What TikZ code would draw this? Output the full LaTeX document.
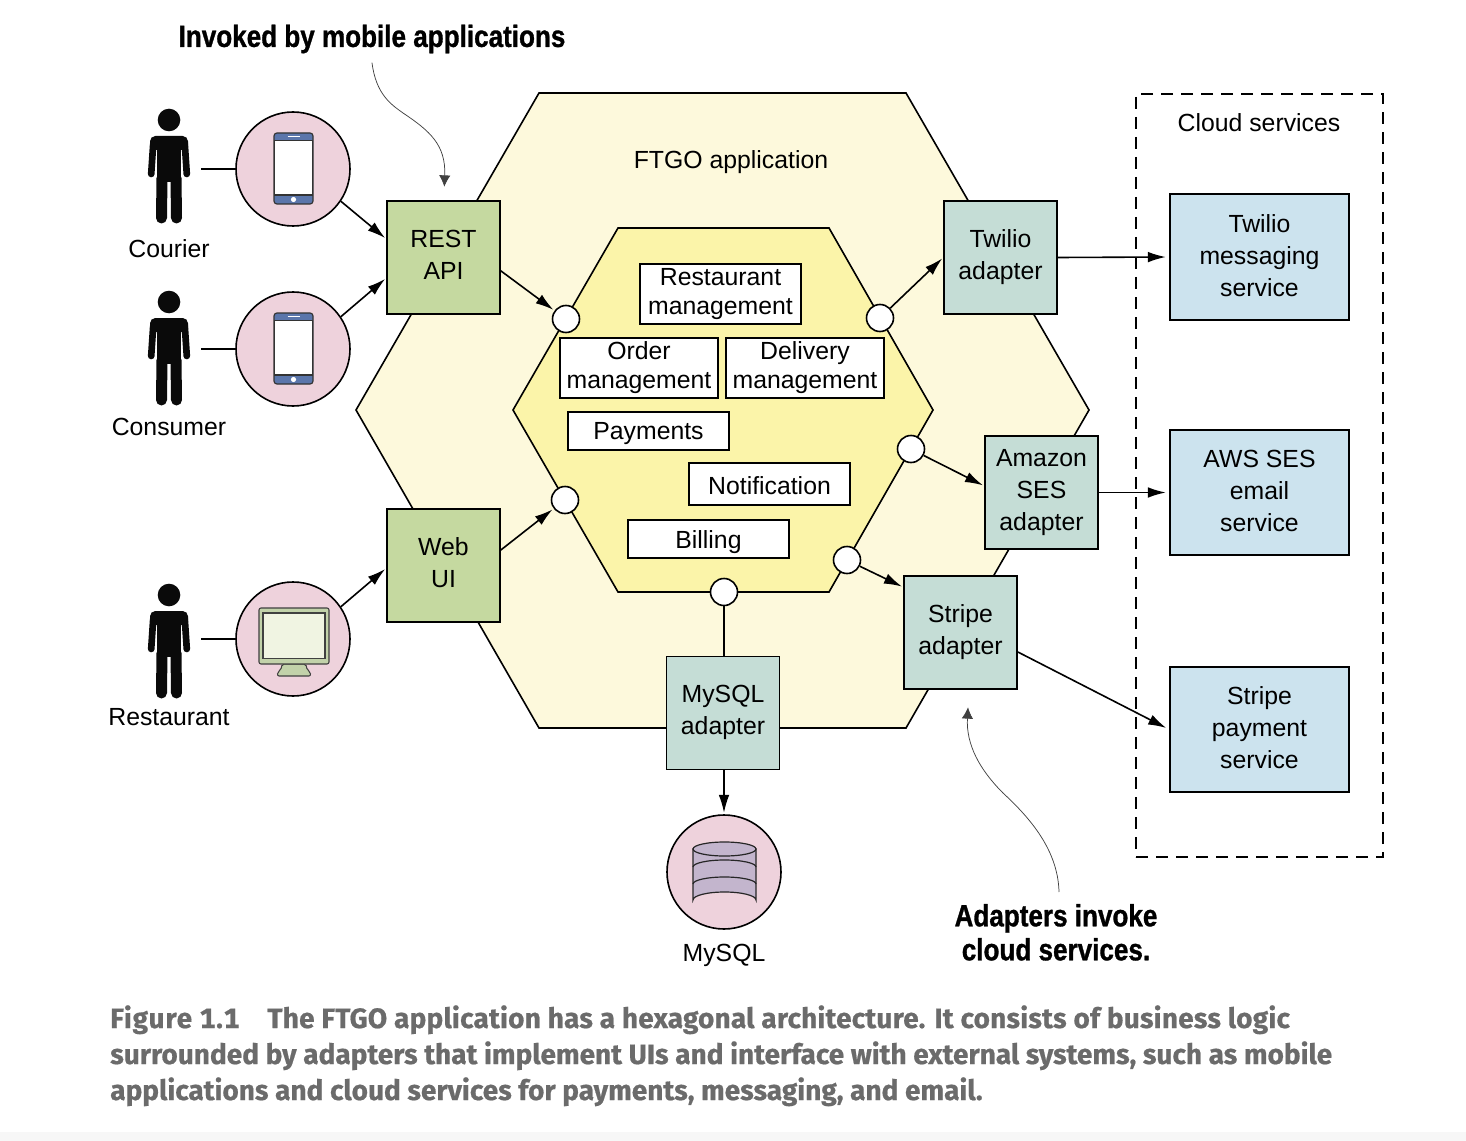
\documentclass[tikz,border=0pt]{standalone}
\usepackage{fontspec}
\setmainfont{Liberation Sans}
\newfontfamily\condb[FakeStretch=0.85,FakeBold=1]{Liberation Sans}
\newfontfamily\capf[FakeBold=0.6]{Fira Sans}
\usetikzlibrary{arrows.meta,calc}
\definecolor{hexout}{HTML}{FDF9DC}
\definecolor{hexin}{HTML}{FBF4A9}
\definecolor{uigreen}{HTML}{C5D9A0}
\definecolor{adteal}{HTML}{C5DDD6}
\definecolor{cloudblue}{HTML}{CCE3EE}
\definecolor{pinkc}{HTML}{EED2DC}
\definecolor{phoneblue}{HTML}{5B76AB}
\definecolor{monigreen}{HTML}{C2D2AA}
\definecolor{moniscreen}{HTML}{F0F4E2}
\definecolor{dbpurple}{HTML}{C3B5CD}
\definecolor{capgray}{HTML}{6B6B6B}
\tikzset{
  x=0.75pt,y=-0.75pt,
  every node/.style={font=\fontsize{18.6pt}{24pt}\selectfont,align=center,inner sep=0pt,text=black,
    execute at begin node={\rule{0pt}{16pt}},
    execute at end node={\rule[-2.7pt]{0pt}{2.7pt}}},
  txtup/.style={execute at end node={\rule[-#1]{0pt}{#1}}},
  txtdown/.style={execute at begin node={\rule{0pt}{#1}}},
  ln/.style={draw=black,line width=1.2pt},
  arr/.style={ln,-{Latex[length=13.5pt,width=8pt]},shorten >=1pt},
  svcarr/.style={arr,shorten >=2.5pt},
  thincurve/.style={draw=black!75,line width=0.55pt,-{Latex[length=8.5pt,width=8.5pt]}},
  hexa/.style={ln,line join=miter},
  uibox/.style={ln,fill=uigreen,txtup=4.5pt,minimum width=84.75pt,minimum height=84.75pt},
  adbox/.style={ln,fill=adteal,txtup=4.5pt,minimum width=84.75pt,minimum height=84.75pt},
  svcbox/.style={ln,fill=cloudblue,txtdown=19pt,minimum width=134.25pt,minimum height=94.1pt},
  modbox/.style={ln,fill=white,font=\fontsize{18.6pt}{21.75pt}\selectfont},
  port/.style={ln,circle,fill=white,minimum size=20.25pt},
  bigc/.style={ln,circle,fill=pinkc,minimum size=85.5pt},
  ann/.style={font=\fontsize{23pt}{25.5pt}\selectfont\condb\bfseries},
  captxt/.style={anchor=base west,text=capgray,font=\fontsize{21pt}{26pt}\selectfont\capf\bfseries,align=left},
  pics/person/.style={code={
    \fill[black!96] (0,0) circle (11.3);
    \fill[black!96,rounded corners=4pt] (-19,16) rectangle (19,30);
    \fill[black!96] (-12,20) rectangle (12,62);
    \draw[black!96,line width=5pt,line cap=round] (-15.8,24) -- (-17.8,54);
    \draw[black!96,line width=5pt,line cap=round] (15.8,24) -- (17.8,54);
    \draw[black!96,line width=8.25pt,line cap=round] (-7,58) -- (-7.5,98);
    \draw[black!96,line width=8.25pt,line cap=round] (7,58) -- (7.5,98);
  }},
  pics/phone/.style={code={
    \draw[draw=black!80,line width=0.9pt,fill=phoneblue,rounded corners=2.2pt] (-19.5,-35.5) rectangle (19.5,35.5);
    \draw[draw=black!80,line width=0.9pt,fill=white] (-18.8,-28) rectangle (18.8,26.5);
    \draw[white,line width=1pt] (-6,-31.8) -- (6,-31.8);
    \fill[white] (0,31) circle (2.6);
  }},
  pics/monitor/.style={code={
    \draw[draw=black!75,line width=0.8pt,fill=monigreen,rounded corners=1.5pt] (-12,25) -- (12,25) -- (13,31) .. controls (17,33) and (17,37) .. (13,37) -- (-13,37) .. controls (-17,37) and (-17,33) .. (-13,31) -- cycle;
    \draw[draw=black!75,line width=0.8pt,fill=monigreen,rounded corners=1.5pt] (-35,-31) rectangle (35,25);
    \draw[draw=black!75,line width=0.8pt,fill=moniscreen] (-31,-26) rectangle (31,19.5);
  }},
  pics/dbase/.style={code={
    \draw[draw=black!85,line width=0.9pt,fill=dbpurple] (-31.5,-23) -- (-31.5,28) arc[start angle=180,end angle=360,x radius=31.5,y radius=8] -- (31.5,-23) -- cycle;
    \draw[draw=black!85,line width=0.9pt] (-31.5,-5) arc[start angle=180,end angle=360,x radius=31.5,y radius=7];
    \draw[draw=black!85,line width=0.9pt] (-31.5,12) arc[start angle=180,end angle=360,x radius=31.5,y radius=7];
    \draw[draw=black!85,line width=0.9pt,fill=dbpurple] (0,-23) ellipse (31.5 and 7);
  }},
}
\begin{document}
\begin{tikzpicture}
\useasboundingbox (0,0) rectangle (1466,1141);
\fill[white] (0,0) rectangle (1466,1141);
\fill[black!3] (0,1132) rectangle (1466,1141);

% hexagons
\draw[hexa,fill=hexout] (539,93) -- (906,93) -- (1089,410) -- (906,728) -- (539,728) -- (356,410) -- cycle;
\draw[hexa,fill=hexin] (618,228) -- (829,228) -- (933,410) -- (829,592) -- (618,592) -- (513,410) -- cycle;

% cloud frame
\node[draw=black,line width=1pt,dash pattern=on 9pt off 6pt,minimum width=185.25pt,minimum height=572.25pt] (cloud) at (1259.5,475.5) {};
\node (cloudt) at (1259,123) {Cloud services};
\node (ftgo) at (731,160) {FTGO application};

% business modules
\node[modbox,txtdown=19pt,minimum width=120.75pt,minimum height=45pt] (mrest) at (720.5,294) {Restaurant\\management};
\node[modbox,txtdown=17.5pt,minimum width=118.5pt,minimum height=45pt] (morder) at (639,368) {Order\\management};
\node[modbox,txtdown=17.5pt,minimum width=118.5pt,minimum height=45pt] (mdeliv) at (805,368) {Delivery\\management};
\node[modbox,txtup=4pt,minimum width=120.75pt,minimum height=28.5pt] (mpay) at (648.5,431) {Payments};
\node[modbox,txtdown=19pt,minimum width=120.75pt,minimum height=31.5pt] (mnote) at (769.5,484) {Notification};
\node[modbox,txtdown=17.5pt,minimum width=120.75pt,minimum height=28.5pt] (mbill) at (708.5,539) {Billing};

% ports
\node[port] (p1) at (566,319) {};
\node[port] (p2) at (880,318) {};
\node[port] (p3) at (911,449) {};
\node[port] (p4) at (565,500) {};
\node[port] (p5) at (847,560) {};
\node[port] (p6) at (724,592) {};

% adapters
\node[uibox] (rest) at (443.5,257.5) {REST\\API};
\node[uibox] (web) at (443.5,565.5) {Web\\UI};
\node[adbox] (twilio) at (1000.5,257.5) {Twilio\\adapter};
\node[adbox] (ses) at (1041.5,492.5) {Amazon\\SES\\adapter};
\node[adbox] (stripe) at (960.5,632.5) {Stripe\\adapter};
\node[adbox] (mysqla) at (723,713) {MySQL\\adapter};

% cloud services
\node[svcbox] (stw) at (1259.5,257) {Twilio\\messaging\\service};
\node[svcbox] (saws) at (1259.5,492.5) {AWS SES\\email\\service};
\node[svcbox] (sstr) at (1259.5,729.5) {Stripe\\payment\\service};

% client circles
\node[bigc] (c1) at (293,169) {};
\node[bigc] (c2) at (293,349) {};
\node[bigc] (c3) at (293,639) {};
\node[bigc] (dbc) at (724,872) {};
\pic at (293.5,168.5) {phone};
\pic at (293.5,348.5) {phone};
\pic at (294,639) {monitor};
\pic at (724.5,872) {dbase};

% persons
\pic at (169,120) {person};
\pic at (169,302) {person};
\pic at (169,595) {person};
\node (lcour) at (169,249) {Courier};
\node (lcons) at (169,427) {Consumer};
\node (lrest) at (169,717) {Restaurant};
\node (lmy) at (724,953) {MySQL};
\coordinate (h1) at (201,169);
\coordinate (h2) at (201,349);
\coordinate (h3) at (201,639);
\draw[ln] (h1) -- (c1);
\draw[ln] (h2) -- (c2);
\draw[ln] (h3) -- (c3);

% connectors
\draw[arr] (c1.-34) -- ([yshift=13.9pt]rest.west);
\draw[arr] (c2.34) -- ([yshift=-15.4pt]rest.west);
\draw[arr] (c3.34) -- ([yshift=-2pt]web.west);
\draw[arr] ([yshift=-10pt]rest.east) -- (p1.144);
\draw[arr] ([yshift=11.6pt]web.east) -- (p4.217);
\draw[arr] (p2.44) -- (twilio.west);
\draw[arr] (p3.-27) -- ([yshift=4.9pt]ses.west);
\draw[arr] (p5.-26) -- ([yshift=34pt]stripe.west);
\draw[ln] (p6) -- (p6 |- mysqla.north);
\draw[arr] (p6 |- mysqla.south) -- (dbc.north);
\draw[svcarr] (twilio.east) -- (stw.west);
\draw[svcarr] (ses.east) -- (saws.west);
\draw[svcarr] ([yshift=-14.6pt]stripe.east) -- (sstr.west);

% annotations
\node[ann] (ann1) at (372,39) {Invoked by mobile applications};
\node[ann] (ann2) at (1056,934) {Adapters invoke\\cloud services.};
\coordinate (a1s) at (372,62.7);
\coordinate (a1m) at (403,113);
\coordinate (a1e) at (444.3,186.7);
\coordinate (a2s) at (1059,892);
\coordinate (a2m) at (1003,793);
\coordinate (a2e) at (968,707.3);
\draw[thincurve] (a1s) .. controls (376,95) and (392,105) .. (a1m) .. controls (430,131) and (446,145) .. (a1e);
\draw[thincurve] (a2s) .. controls (1058,850) and (1030,818) .. (a2m) .. controls (980,770) and (966,745) .. (a2e);

% caption
\node[captxt] (cap1) at (110,1028) {{\addfontfeature{Numbers=Monospaced,LetterSpace=3}Figure 1.1}\hspace{21pt}{\addfontfeature{LetterSpace=0.75}The FTGO application has a hexagonal architecture. It consists of business logic}};
\node[captxt] (cap2) at (110,1064) {surrounded by adapters that implement UIs and interface with external systems, such as mobile};
\node[captxt] (cap3) at (110,1100) {applications and cloud services for payments, messaging, and email.};
\end{tikzpicture}
\end{document}
